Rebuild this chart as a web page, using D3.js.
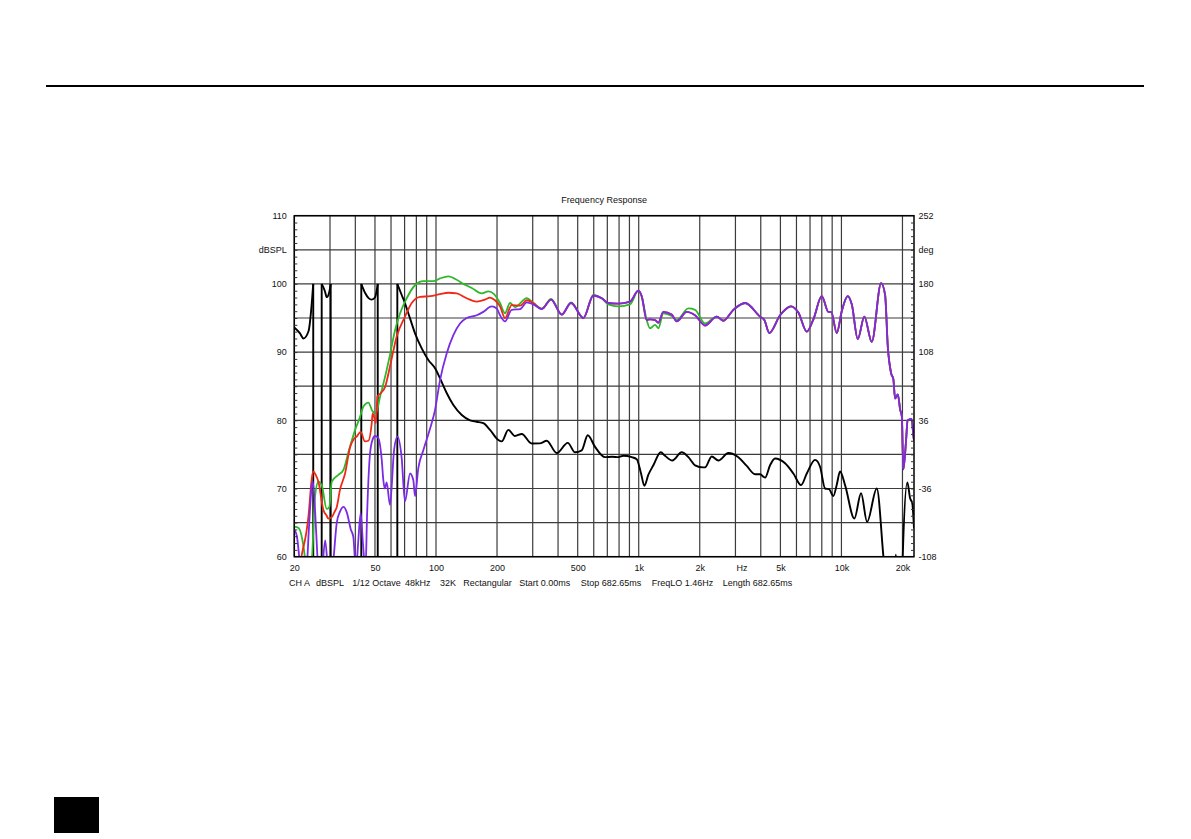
<!DOCTYPE html>
<html><head><meta charset="utf-8">
<script src="https://cdn.jsdelivr.net/npm/d3@7"></script>
<style>body{margin:0;background:#fff}text{font-family:"Liberation Sans",Arial,sans-serif;fill:#111}</style>
</head><body>
<svg id="c" width="1191" height="839"></svg>
<script>
// ---------------- data ----------------
const freqTicks = [20, 50, 100, 200, 500, 1000, 2000, 3000, 5000, 10000, 20000];
const freqTickLabels = ["20", "50", "100", "200", "500", "1k", "2k", "Hz", "5k", "10k", "20k"];
const gridFreqs = [20,30,40,50,60,70,80,90,100,200,300,400,500,600,700,800,900,1000,
  2000,3000,4000,5000,6000,7000,8000,9000,10000,20000];
const dbTicks = [60, 70, 80, 90, 100, 105, 110];
const dbTickLabels = ["60", "70", "80", "90", "100", "dBSPL", "110"];
const degTicks = [-108, -36, 36, 108, 180, 216, 252];
const degTickLabels = ["-108", "-36", "36", "108", "180", "deg", "252"];
const dbGrid = [60, 65, 70, 75, 80, 85, 90, 95, 100, 105, 110];
const titleText = "Frequency Response";
const infoItems = ["CH A", "dBSPL", "1/12 Octave", "48kHz", "32K", "Rectangular",
  "Start 0.00ms", "Stop 682.65ms", "FreqLO 1.46Hz", "Length 682.65ms"];

// magnitude (Hz, dBSPL) -- purple curve
const purpleSeries = [
 [20,64.0],[20.6,63.0],[21.3,59.0],[22.0,55],[23.0,58],[23.6,64],[24.4,70.5],[24.7,71.0],[25.3,67],
 [26.0,60],[26.5,55],[27.3,57],[28.4,62.4],[29.3,58],[30.2,55],[31.3,60],[32.4,65],[33.6,66.6],
 [35.0,67.3],[36.3,66.5],[38.0,64],[39.1,62.9],[40.3,58],[41.3,62],[42.5,66.4],[43.6,62],[44.9,58],
 [45.7,66],[47.3,75.2],[48.7,77.2],[50.0,77.7],[51.9,77.4],[54.0,74.2],[55.0,71.2],[55.9,70.0],
 [57.1,70.9],[59.3,67.6],[62.1,75.6],[64.5,77.6],[67.7,74.5],[70.3,68.1],[74.5,72.2],[77.3,71.2],
 [78.8,68.9],[81.8,73.0],[86.6,75.6],[93.5,78.8],[98.9,81.5],[104.7,85.9],[112.9,89.8],[121.8,92.5],
 [131.4,94.2],[141.8,95.0],[158.8,95.4],[171.2,95.9],[188.3,96.7],[199.3,96.4],[206.9,95.4],
 [219,94.5],[236.3,96.2],[260,96.3],[280.3,97.3],[302.1,97.0],[332.3,96.3],[369.4,97.7],[417.2,95.5],
 [463.7,97.2],[533.2,95.0],[597.4,98.3],[657.1,97.9],[708.3,97.2],[793.5,97.1],[906.5,97.4],
 [995.8,99.0],[1035,98.2],[1095,94.7],[1137,94.8],[1204,94.7],[1250,94.3],[1322,95.9],[1455,95.5],
 [1540,94.5],[1726,95.9],[1896,95.4],[2124,93.9],[2426,95.2],[2614,94.6],[2930,96.2],[3346,97.2],
 [3968,95.2],[4166,94.7],[4410,92.8],[4980,95.4],[5642,96.7],[6130,95.8],[6746,93.0],[7271,94.8],
 [7999,98.2],[8622,95.9],[8900,95.9],[9482,92.8],[10036,96.0],[10745,98.2],[11244,97.0],[12038,91.9],
 [12970,95.2],[14110,91.5],[15690,100.1],[16420,98.4],[16930,90.8],[17580,86.9],[18040,86.0],
 [18390,83.2],[18970,83.8],[19500,81.5],[19850,80.6],[20200,72.8],[20830,77.0],[21200,80.0],
 [22200,80.2],[22630,77.8],[22800,77.0]
];
// red curve, low/mid part (above ~330 Hz it coincides with the purple one)
const redLow = [
 [20,57],[21.3,59],[22.2,61.5],[22.6,62.5],[23.5,66],[24.4,71.5],[24.8,72.5],[25.5,72],[26.3,71.0],
 [27.8,66.9],[28.9,66.0],[29.4,65.6],[30.6,65.8],[31.5,66.5],[32.4,67.3],[33.6,69.8],[35.6,72.2],
 [37.7,76.1],[39.2,77.2],[40.6,77.6],[42.5,78.3],[44.6,76.9],[46.4,77.0],[48.2,79.6],[48.7,81.0],
 [50.0,80.0],[50.6,79.6],[51.4,83.5],[53.5,84.0],[56.1,84.9],[59.3,87.9],[64.0,92.3],[70.3,95.2],
 [75.9,97.2],[83.4,98.1],[93.5,98.2],[104.7,98.5],[115.0,98.7],[126.6,98.6],[141.8,97.9],[158.8,97.4],
 [174.5,97.7],[184.7,98.0],[195.5,97.6],[206.9,96.7],[219,95.0],[236.3,96.9],[260,96.8],[280.3,97.6],
 [302.1,97.2]
];
// green curve, low/mid part (above ~2.2 kHz it coincides with the purple one)
const greenLow = [
 [20,64.4],[21.0,64.2],[22.2,61.5],[22.6,59.8],[23.5,57.5],[24.4,59.5],[25.3,68.8],[26.3,71.0],
 [27.3,70.5],[28.9,67.0],[29.8,67.3],[30.6,71.0],[33.0,72.0],[34.9,72.7],[36.9,75.2],[39.9,78.6],
 [42.2,80.5],[43.8,82.0],[46.4,82.6],[48.7,81.3],[50.6,81.1],[53.0,83.5],[56.1,86.4],[59.3,89.6],
 [62.8,93.2],[66.5,95.7],[71.7,97.9],[78.8,99.8],[86.6,100.4],[97.0,100.4],[104.7,100.8],[115.0,101.1],
 [126.6,100.6],[136.4,100.0],[150.1,99.4],[168.1,98.6],[181.2,98.9],[193.3,98.5],[206.9,97.2],
 [219,95.7],[231.8,97.2],[245.3,96.6],[280.3,97.9],[302.1,97.2],[332.3,96.4],[369.4,97.8],[417.2,95.5],
 [463.7,97.3],[533.2,95.0],[597.4,98.4],[657.1,97.9],[708.3,97.0],[793.5,96.7],[906.5,97.0],
 [995.8,99.0],[1035,98.1],[1095,94.7],[1137,93.5],[1204,94.0],[1250,93.5],[1322,95.7],[1455,95.3],
 [1540,94.7],[1758,96.4],[1896,96.2],[2124,94.2]
];
const redSeries = redLow.concat(purpleSeries.filter(d => d[0] > 320));
const greenSeries = greenLow.concat(purpleSeries.filter(d => d[0] > 2200));

// phase (Hz, degrees), wrapped at +/-180
const phaseSeries = [
 [20,134],[21.3,128],[22.2,122.4],[23.5,130],[24.4,160],[24.8,180],[24.8,-180],[25.9,-150],
 [27.3,-180],[27.3,180],[28.35,172],[28.9,166],[29.8,172],[30.24,180],[30.24,-180],[36,-140],
 [42.8,-180],[42.8,180],[44.65,170.6],[46.5,165],[48.2,163.4],[50.0,165.6],[51.6,180],[51.6,-180],
 [58,-140],[64.45,-180],[64.45,180],[67.75,168.3],[70.34,159.5],[74.46,143.6],[78.81,127.8],
 [85.03,112],[91.66,99.7],[98.9,90.9],[104.7,80.3],[112.9,64.8],[121.8,52.1],[134.0,41.6],[147.2,36],
 [158.8,34.5],[171.2,33],[184.7,25.9],[203.0,15.2],[211,13.7],[227.4,25.9],[245.3,19.4],[264.8,21.6],
 [296.7,11.5],[325,11.6],[351.8,14.4],[394.1,1.4],[446.6,12.2],[485.2,2.2],[523.6,4.3],[560.5,20.2],
 [609,7.9],[682.3,-2.9],[740,-2.5],[793.5,-2.9],[839.9,-1.4],[924,-2.9],[977.9,-5],[1026.8,-20.2],
 [1066,-33.1],[1115,-21.6],[1181,-11.5],[1285,2.2],[1348,-1.5],[1465,-6.5],[1630,2.2],[1758,-2.9],
 [1896,-11.5],[2084,-13.7],[2124,-13.7],[2292,-2.2],[2471,-6.5],[2768,1.4],[3101,-2.9],[3411,-12.2],
 [3749,-20.9],[3968,-21],[4200,-24.5],[4445,-11.5],[4705,-4.3],[5271,-9.4],[5792,-20.2],[6321,-32.4],
 [6746,-20.2],[7413,-5.8],[7845,-13],[8305,-36],[8690,-36.7],[9124,-43.9],[9482,-32],[9846,-18],
 [10420,-32.4],[11582,-67.7],[12500,-41],[13380,-71.3],[14940,-36],[16110,-108],[16800,-150],
 [18200,-135],[18550,-106],[18900,-135],[19850,-150],[20050,-110],[21140,-29.5],[21800,-46],
 [22370,-52],[22800,-78]
];

// ---------------- layout ----------------
const L = 294.3, R = 914, T = 215.7, B = 556.7;
const svg = d3.select("#c");
svg.append("rect").attr("width", 1191).attr("height", 839).attr("fill", "#fff");

// page decorations
svg.append("line").attr("x1", 46).attr("x2", 1144).attr("y1", 86).attr("y2", 86)
  .attr("stroke", "#000").attr("stroke-width", 2);
svg.append("rect").attr("x", 54).attr("y", 797).attr("width", 45).attr("height", 36).attr("fill", "#000");

const x = d3.scaleLog().domain([20, 22800]).range([L, R]);
const yL = d3.scaleLinear().domain([60, 110]).range([B, T]);
const yR = d3.scaleLinear().domain([-108, 252]).range([B, T]);

// grid
const grid = svg.append("g").attr("stroke", "#3c3c3c").attr("stroke-width", 1.2);
grid.selectAll("line.v").data(gridFreqs).join("line").attr("class", "v")
  .attr("x1", d => x(d)).attr("x2", d => x(d)).attr("y1", T).attr("y2", B);
grid.selectAll("line.h").data(dbGrid).join("line").attr("class", "h")
  .attr("x1", L).attr("x2", R).attr("y1", d => yL(d)).attr("y2", d => yL(d));

// clip
svg.append("clipPath").attr("id", "plotclip").append("rect")
  .attr("x", L).attr("y", T).attr("width", R - L).attr("height", B - T);
const plot = svg.append("g").attr("clip-path", "url(#plotclip)");

// phase (split at wraps)
const runs = []; const jumps = [];
let cur = [phaseSeries[0]];
for (let i = 1; i < phaseSeries.length; i++) {
  if (phaseSeries[i][0] === phaseSeries[i - 1][0]) {
    runs.push(cur); jumps.push([phaseSeries[i - 1], phaseSeries[i]]); cur = [phaseSeries[i]];
  } else cur.push(phaseSeries[i]);
}
runs.push(cur);
const phaseLine = d3.line().x(d => x(d[0])).y(d => yR(d[1])).curve(d3.curveMonotoneX);
plot.selectAll("path.ph").data(runs).join("path").attr("class", "ph")
  .attr("d", phaseLine).attr("fill", "none").attr("stroke", "#000").attr("stroke-width", 1.9)
  .attr("stroke-linejoin", "round");
plot.selectAll("line.jump").data(jumps).join("line").attr("class", "jump")
  .attr("x1", d => x(d[0][0])).attr("x2", d => x(d[1][0]))
  .attr("y1", d => yR(d[0][1])).attr("y2", d => yR(d[1][1]))
  .attr("stroke", "#000").attr("stroke-width", 1.9);

// magnitudes
const magLine = d3.line().x(d => x(d[0])).y(d => yL(d[1])).curve(d3.curveMonotoneX);
const mags = [
  {data: greenSeries, color: "#2fb82a"},
  {data: redSeries, color: "#ee2a16"},
  {data: purpleSeries, color: "#7a2be6"}
];
plot.selectAll("path.mag").data(mags).join("path").attr("class", "mag")
  .attr("d", d => magLine(d.data)).attr("fill", "none").attr("stroke", d => d.color)
  .attr("stroke-width", 1.8).attr("stroke-linejoin", "round");

// frame
svg.append("rect").attr("x", L).attr("y", T).attr("width", R - L).attr("height", B - T)
  .attr("fill", "none").attr("stroke", "#000").attr("stroke-width", 1.5);

// minor ticks (inside, every 1 dB)
const minor = d3.range(61, 110);
svg.append("g").attr("transform", `translate(${L},0)`)
  .call(d3.axisRight(yL).tickValues(minor).tickSize(3).tickFormat(""))
  .call(g => g.select(".domain").remove())
  .selectAll("line").attr("stroke", "#333");
svg.append("g").attr("transform", `translate(${R},0)`)
  .call(d3.axisLeft(yL).tickValues(minor).tickSize(3).tickFormat(""))
  .call(g => g.select(".domain").remove())
  .selectAll("line").attr("stroke", "#333");

// axes labels
const fs = "9px";
const axL = svg.append("g").attr("transform", `translate(${L},0)`)
  .call(d3.axisLeft(yL).tickValues(dbTicks).tickSize(0).tickPadding(7.5)
    .tickFormat((d, i) => dbTickLabels[i]));
const axR = svg.append("g").attr("transform", `translate(${R},0)`)
  .call(d3.axisRight(yR).tickValues(degTicks).tickSize(0).tickPadding(4.5)
    .tickFormat((d, i) => degTickLabels[i]));
const axB = svg.append("g").attr("transform", `translate(0,${B})`)
  .call(d3.axisBottom(x).tickValues(freqTicks).tickSize(0).tickPadding(8)
    .tickFormat((d, i) => freqTickLabels[i]));
[axL, axR, axB].forEach(a => {
  a.select(".domain").remove();
  a.selectAll("text").attr("font-size", fs).attr("fill", "#111")
    .attr("font-family", '"Liberation Sans", Arial, sans-serif');
});
axB.selectAll("text").filter((d, i) => freqTickLabels[i] === "Hz").attr("dx", 6);

// title
svg.append("text").attr("x", (L + R) / 2).attr("y", 203).attr("text-anchor", "middle")
  .attr("font-size", fs).text(titleText);

// info line
const infoX = [289, 316, 352.3, 405, 440, 463.3, 519.3, 580.7, 651.7, 722.7];
const info = svg.append("text").attr("y", 586).attr("font-size", fs);
info.selectAll("tspan").data(infoItems).join("tspan")
  .attr("x", (d, i) => infoX[i]).text(d => d);
</script>
</body></html>
